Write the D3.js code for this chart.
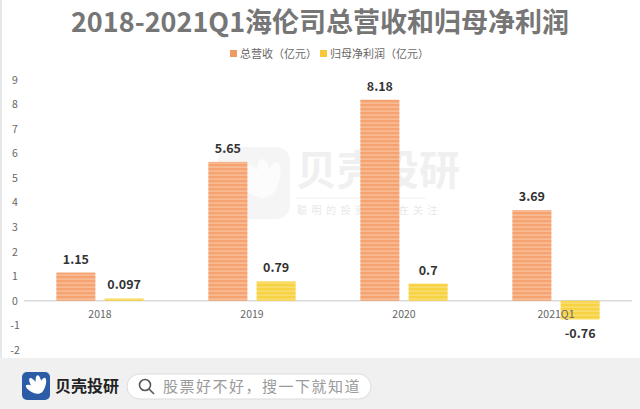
<!DOCTYPE html>
<html>
<head>
<meta charset="utf-8">
<script src="https://cdn.jsdelivr.net/npm/d3@7"></script>
<style>
  body { margin: 0; background: #fff; }
  svg { display: block; font-family: "Noto Sans CJK SC", "Open Sans", sans-serif; }
</style>
</head>
<body>
<script>
var categories = ["2018", "2019", "2020", "2021Q1"];
var revenue = [1.15, 5.65, 8.18, 3.69];
var netProfit = [0.097, 0.79, 0.7, -0.76];
var seriesNames = ["总营收（亿元）", "归母净利润（亿元）"];
var yTicks = [-2, -1, 0, 1, 2, 3, 4, 5, 6, 7, 8, 9];

var w = 640;
var h = 409;

var svg = d3.select("body")
    .append("svg")
    .attr("width", w)
    .attr("height", h);

// stripes for the bars
var defs = svg.append("defs");
function stripes(id, base, line) {
    var p = defs.append("pattern")
        .attr("id", id)
        .attr("patternUnits", "userSpaceOnUse")
        .attr("width", 8)
        .attr("height", 4);
    p.append("rect").attr("width", 8).attr("height", 4).attr("fill", base);
    p.append("rect").attr("y", 2.5).attr("width", 8).attr("height", 1.2).attr("fill", line);
}
stripes("stripeOrange", "#f5a471", "#f9c3a0");
stripes("stripeYellow", "#f7d243", "#fbe27e");

// left border of the card
svg.append("rect")
    .attr("x", 0).attr("y", 0)
    .attr("width", 2).attr("height", 358)
    .attr("fill", "#e8e8e8");

// title
svg.append("text")
    .attr("x", 320)
    .attr("y", 32)
    .attr("text-anchor", "middle")
    .attr("font-size", 27)
    .attr("font-weight", "bold")
    .attr("fill", "#767676")
    .text("2018-2021Q1海伦司总营收和归母净利润");

// legend
var legendColors = ["#ef9a62", "#f5c935"];
var legendX = [230, 320];
seriesNames.forEach(function(name, i) {
    svg.append("rect")
        .attr("x", legendX[i]).attr("y", 50)
        .attr("width", 7).attr("height", 7)
        .attr("fill", legendColors[i]);
    svg.append("text")
        .attr("x", legendX[i] + 10)
        .attr("y", 58)
        .attr("font-size", 11)
        .attr("fill", "#666")
        .text(name);
});

// watermark
var wm = svg.append("g").attr("opacity", 0.5);
wm.append("rect")
    .attr("x", 218).attr("y", 147)
    .attr("width", 72).attr("height", 72)
    .attr("rx", 14)
    .attr("fill", "#ececec");
[[-60, 28], [-35, 30], [-10, 30], [15, 28]].forEach(function(a) {
    wm.append("ellipse")
        .attr("cx", 0).attr("cy", -a[1] / 1.6)
        .attr("rx", 7).attr("ry", a[1] / 1.6)
        .attr("transform", "translate(268,196) rotate(" + a[0] + ")")
        .attr("fill", "#fafafa");
});
wm.append("text")
    .attr("x", 296).attr("y", 185)
    .attr("font-size", 41)
    .attr("font-weight", "bold")
    .attr("fill", "#e2e2e2")
    .text("贝壳投研");
wm.append("line")
    .attr("x1", 296).attr("x2", 426)
    .attr("y1", 198).attr("y2", 198)
    .attr("stroke", "#e6e6e6");
wm.append("text")
    .attr("x", 297).attr("y", 214)
    .attr("font-size", 10)
    .attr("letter-spacing", 4.5)
    .attr("fill", "#d2d2d2")
    .text("聪明的投资者都在关注");

// scales
var x0 = d3.scaleBand()
    .domain(categories)
    .range([24, 632]);

var x1 = d3.scaleBand()
    .domain([0, 1])
    .range([0, x0.bandwidth()])
    .paddingInner(0.19)
    .paddingOuter(0.67);

var y = d3.scaleLinear()
    .domain([-2, 9])
    .range([350, 79.5]);

// y tick labels
svg.append("g")
    .selectAll("text")
    .data(yTicks)
    .enter()
    .append("text")
    .attr("x", 15)
    .attr("y", function(d) { return y(d) + 4; })
    .attr("text-anchor", "middle")
    .attr("font-size", 10.5)
    .attr("fill", "#666")
    .text(function(d) { return d; });

// zero line
svg.append("line")
    .attr("x1", 24).attr("x2", 632)
    .attr("y1", y(0)).attr("y2", y(0))
    .attr("stroke", "#c8c8c8")
    .attr("stroke-width", 1);

var series = [revenue, netProfit];
var fills = ["url(#stripeOrange)", "url(#stripeYellow)"];

series.forEach(function(vals, s) {
    var g = svg.append("g");
    g.selectAll("rect")
        .data(vals)
        .enter()
        .append("rect")
        .attr("x", function(d, i) { return x0(categories[i]) + x1(s); })
        .attr("y", function(d) { return y(Math.max(0, d)); })
        .attr("width", x1.bandwidth())
        .attr("height", function(d) { return Math.abs(y(d) - y(0)); })
        .attr("fill", fills[s]);
});

// x labels
svg.append("g")
    .selectAll("text")
    .data(categories)
    .enter()
    .append("text")
    .attr("x", function(d) { return x0(d) + x0.bandwidth() / 2; })
    .attr("y", y(0) + 17)
    .attr("text-anchor", "middle")
    .attr("font-size", 10.5)
    .attr("fill", "#666")
    .text(function(d) { return d; });

// value labels
series.forEach(function(vals, s) {
    svg.append("g")
        .selectAll("text")
        .data(vals)
        .enter()
        .append("text")
        .attr("x", function(d, i) { return x0(categories[i]) + x1(s) + x1.bandwidth() / 2; })
        .attr("y", function(d) { return d >= 0 ? y(d) - 9 : y(d) + 18; })
        .attr("text-anchor", "middle")
        .attr("font-size", 12.5)
        .attr("font-weight", "bold")
        .attr("fill", "#333")
        .text(function(d) { return d; });
});

// footer band
var foot = svg.append("g");
foot.append("rect")
    .attr("x", 0).attr("y", 358)
    .attr("width", w).attr("height", h - 358)
    .attr("fill", "#f0f0f0");
foot.append("rect")
    .attr("x", 22).attr("y", 372)
    .attr("width", 28).attr("height", 28)
    .attr("rx", 5)
    .attr("fill", "#2c5ca6");
[[-62, 16], [-35, 18], [-8, 18], [18, 16]].forEach(function(a) {
    foot.append("ellipse")
        .attr("cx", 0).attr("cy", -a[1] / 2)
        .attr("rx", 3).attr("ry", a[1] / 2)
        .attr("transform", "translate(40,393) rotate(" + a[0] + ")")
        .attr("fill", "#fff");
});
foot.append("text")
    .attr("x", 55).attr("y", 392)
    .attr("font-size", 16)
    .attr("font-weight", "bold")
    .attr("fill", "#222")
    .text("贝壳投研");
foot.append("rect")
    .attr("x", 127).attr("y", 374)
    .attr("width", 244).attr("height", 25)
    .attr("rx", 12.5)
    .attr("fill", "#fff")
    .attr("stroke", "#dcdcdc");
foot.append("circle")
    .attr("cx", 145).attr("cy", 385)
    .attr("r", 5.5)
    .attr("fill", "none")
    .attr("stroke", "#555")
    .attr("stroke-width", 1.6);
foot.append("line")
    .attr("x1", 149).attr("y1", 389)
    .attr("x2", 154).attr("y2", 394)
    .attr("stroke", "#555")
    .attr("stroke-width", 1.6);
foot.append("text")
    .attr("x", 163).attr("y", 392)
    .attr("font-size", 15)
    .attr("letter-spacing", 1.5)
    .attr("fill", "#9a9a9a")
    .text("股票好不好，搜一下就知道");
</script>
</body>
</html>
